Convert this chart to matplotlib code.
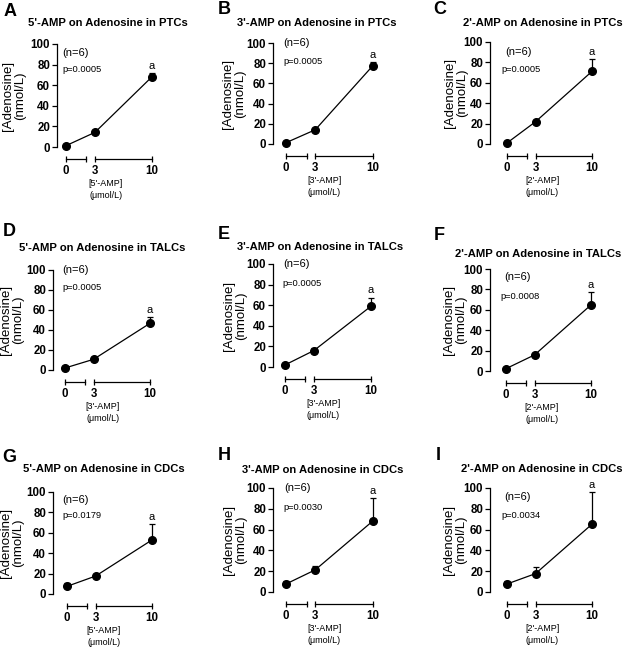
import numpy as np
import matplotlib.pyplot as plt

plt.rcParams['font.family'] = ['Liberation Sans', 'DejaVu Sans']

W, H = 623, 649

# ---- data ----
doses = [0, 3, 10]
letters = ['A', 'B', 'C', 'D', 'E', 'F', 'G', 'H', 'I']
titles = ["5'-AMP on Adenosine in PTCs", "3'-AMP on Adenosine in PTCs", "2'-AMP on Adenosine in PTCs",
          "5'-AMP on Adenosine in TALCs", "3'-AMP on Adenosine in TALCs", "2'-AMP on Adenosine in TALCs",
          "5'-AMP on Adenosine in CDCs", "3'-AMP on Adenosine in CDCs", "2'-AMP on Adenosine in CDCs"]
agonists = ["[5'-AMP]", "[3'-AMP]", "[2'-AMP]",
            "[3'-AMP]", "[3'-AMP]", "[2'-AMP]",
            "[5'-AMP]", "[3'-AMP]", "[2'-AMP]"]
p_values = ['p=0.0005', 'p=0.0005', 'p=0.0005',
            'p=0.0005', 'p=0.0005', 'p=0.0008',
            'p=0.0179', 'p=0.0030', 'p=0.0034']
n_label = '(n=6)'

mean_A = [1.3, 14.2, 68.2]
mean_B = [1.3, 14.1, 77.7]
mean_C = [1.0, 21.9, 71.2]
mean_D = [2.0, 10.7, 46.7]
mean_E = [2.0, 16.0, 59.0]
mean_F = [2.3, 15.8, 64.8]
mean_G = [7.5, 17.6, 53.0]
mean_H = [7.7, 21.3, 68.4]
mean_I = [7.7, 17.7, 65.2]

sem_A = [0.3, 0.6, 3.2]
sem_B = [0.3, 0.6, 3.6]
sem_C = [0.3, 1.0, 12.1]
sem_D = [0.3, 0.6, 6.0]
sem_E = [0.3, 2.0, 8.4]
sem_F = [0.3, 0.6, 12.5]
sem_G = [3.2, 0.6, 16.0]
sem_H = [3.0, 3.7, 21.9]
sem_I = [3.0, 6.2, 30.6]

means = [mean_A, mean_B, mean_C, mean_D, mean_E, mean_F, mean_G, mean_H, mean_I]
sems = [sem_A, sem_B, sem_C, sem_D, sem_E, sem_F, sem_G, sem_H, sem_I]

# ---- layout (pixels) ----
# spine x, y of 100, y of 0, x of dose 0, x of dose 10
frames = [(57, 44, 147, 66, 152), (273, 43, 144, 286, 373), (490, 42, 144, 507, 592),
          (53, 270, 370, 65, 150), (273, 264, 367, 285, 371), (490, 269, 371, 506, 591),
          (53, 492, 594, 67, 152), (273, 488, 592, 286, 373), (490, 488, 592, 507, 592)]
title_xy = [(108, 23), (317, 23), (543, 23),
            (102, 248), (320, 247), (538, 254),
            (104, 469), (323, 470), (542, 469)]
letter_xy = [(10, 11), (224, 9), (440, 9),
             (9, 232), (224, 234), (439, 235),
             (9, 457), (224, 456), (438, 456)]
ylabel_x = [14, 234, 456, 12, 235, 455, 12, 235, 455]
n_xy = [(62, 53), (283, 43), (505, 52), (62, 270), (283, 264), (504, 277),
        (62, 500), (284, 488), (504, 497)]
p_xy = [(62, 69), (283, 61), (501, 69), (62, 287), (282, 284), (500, 296),
        (62, 515), (283, 508), (501, 515)]

GAP = 0.55  # broken x-axis gap between 2.5 and 3


def fwd(x):
    x = np.asarray(x, dtype=float)
    return np.where(x <= 2.5, x, np.where(x >= 3, x + GAP, 2.5 + (x - 2.5) * (0.5 + GAP) / 0.5))


def inv(y):
    y = np.asarray(y, dtype=float)
    return np.where(y <= 2.5, y, np.where(y >= 3 + GAP, y - GAP, 2.5 + (y - 2.5) * 0.5 / (0.5 + GAP)))


fig = plt.figure(figsize=(W / 100, H / 100), dpi=100)

for i in range(9):
    sx, y100, y0, x0, x10 = frames[i]
    ppu = (x10 - x0) / (10 + GAP)
    left = -(x0 - sx) / ppu
    right = 10.3
    width = (fwd(right) - left) * ppu
    ax = fig.add_axes([sx / W, 1 - y0 / H, width / W, (y0 - y100) / H])
    ax.patch.set_visible(False)
    ax.set_xscale('function', functions=(fwd, inv))
    ax.set_xlim(left, right)
    ax.set_ylim(0, 100)

    m = np.array(means[i])
    e = np.array(sems[i])
    ax.errorbar(doses, m, yerr=[np.zeros(3), e], fmt='o-', color='black', ms=5.5, lw=0.9,
                elinewidth=0.9, capsize=2.5, capthick=0.9, clip_on=False, zorder=3)
    ax.annotate('a', xy=(10, m[2] + e[2]), xytext=(0, 1.5), textcoords='offset points',
                ha='center', va='bottom', fontsize=8)

    for s in ['top', 'right']:
        ax.spines[s].set_visible(False)
    ax.spines['left'].set_linewidth(0.9)
    ax.spines['bottom'].set_linewidth(0.9)
    ax.spines['bottom'].set_bounds(0, 2.5)
    ax.spines['bottom'].set_position(('outward', 8.3))

    ax.set_yticks(np.arange(0, 101, 20))
    ax.set_xticks(doses)
    ax.set_xticklabels([str(d) for d in doses])
    ax.set_xticks([2.5], minor=True)
    ax.tick_params(axis='y', direction='out', length=3.5, width=0.9, pad=1.5, labelsize=8.3)
    ax.tick_params(axis='x', which='both', direction='inout', length=4.5, width=0.9, pad=2.5,
                   labelsize=8.3)
    for lab in ax.get_xticklabels() + ax.get_yticklabels():
        lab.set_fontweight('bold')

    # second segment of the broken x-axis
    tw = ax.twinx()
    tw.patch.set_visible(False)
    tw.set_yticks([])
    for s in ['top', 'right', 'left']:
        tw.spines[s].set_visible(False)
    tw.spines['bottom'].set_visible(True)
    tw.spines['bottom'].set_linewidth(0.9)
    tw.spines['bottom'].set_bounds(3, 10)
    tw.spines['bottom'].set_position(('outward', 8.3))

    # texts
    tx, ty = title_xy[i]
    fig.text(tx / W, 1 - ty / H, titles[i], ha='center', va='center', fontsize=8.1, fontweight='bold')
    lx, ly = letter_xy[i]
    fig.text(lx / W, 1 - ly / H, letters[i], ha='center', va='center', fontsize=13, fontweight='bold')
    fig.text(ylabel_x[i] / W, 1 - ((y0 + y100) / 2) / H, '[Adenosine]\n(nmol/L)', rotation=90,
             ha='center', va='center', fontsize=9.5, multialignment='center', linespacing=1.1)
    axis_y = y0 + 11.5
    fig.text((sx + width / 2) / W, 1 - (axis_y + 31) / H, agonists[i] + '\n(\u03bcmol/L)',
             ha='center', va='center', fontsize=6.5, multialignment='center', linespacing=1.3)
    nx, ny = n_xy[i]
    fig.text(nx / W, 1 - ny / H, n_label, ha='left', va='center', fontsize=8)
    px, py = p_xy[i]
    fig.text(px / W, 1 - py / H, p_values[i], ha='left', va='center', fontsize=6.7)

fig.savefig('out.png', dpi=100)
